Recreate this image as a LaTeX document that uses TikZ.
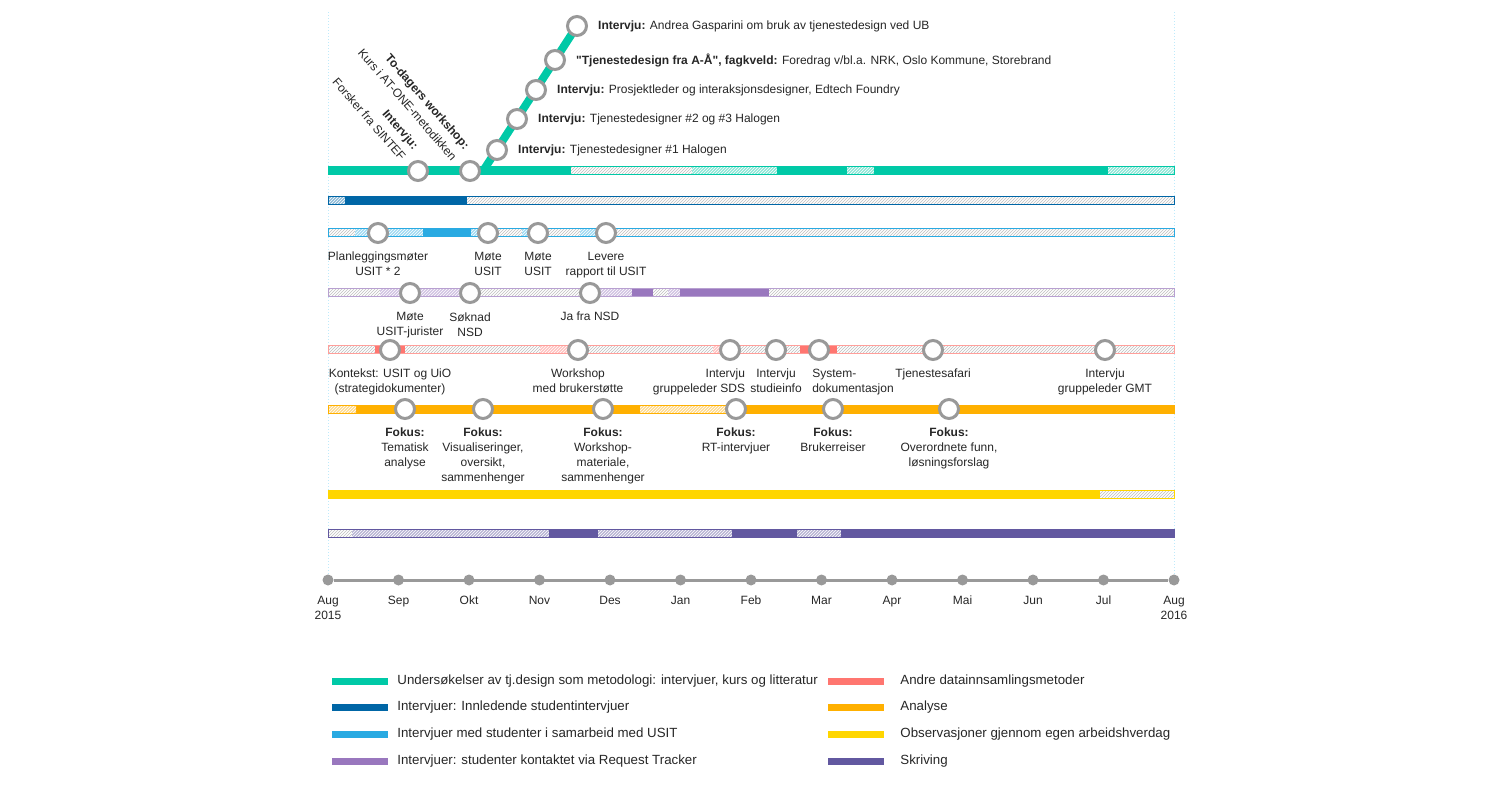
\documentclass[tikz,border=0pt]{standalone}
\usepackage{fontspec}
\setmainfont{Liberation Sans}
\usetikzlibrary{positioning,patterns}

\definecolor{cteal}{RGB}{0,201,167}
\definecolor{cdblue}{RGB}{0,102,166}
\definecolor{clblue}{RGB}{41,170,226}
\definecolor{cpurple}{RGB}{153,119,190}
\definecolor{cred}{RGB}{255,118,112}
\definecolor{corange}{RGB}{255,176,0}
\definecolor{cyellow}{RGB}{255,214,0}
\definecolor{cdpurple}{RGB}{98,88,160}
\newcommand\straightquote{\XeTeXglyph\XeTeXcharglyph"22\relax}

\begin{document}
\begin{tikzpicture}[x=1pt, y=-1pt,
    every node/.style={font=\fontsize{12}{15}\selectfont, text=black!85},
    stop/.style={circle, draw=black!40, line width=3pt, fill=white, minimum size=19pt, inner sep=0pt},
    month/.style={circle, fill=black!40, minimum size=11pt, inner sep=0pt},
    tag/.style={inner sep=0pt, align=center},
    slanted/.style={tag, rotate=-49, anchor=east, align=right, font=\fontsize{12}{17}\selectfont},
    key/.style={tag, font=\fontsize{13.3}{16}\selectfont},
    pale/.style={fill=white, postaction={pattern=north east lines, pattern color=black!25}},
    tinted/.style={fill=#1!45, postaction={pattern=north east lines, pattern color=white}},
    rim/.style={draw=#1, line width=1pt},
    track/.style={draw=#1, line width=8pt},
    swatch/.style={fill=#1, minimum width=56pt, minimum height=7pt, inner sep=0pt},
    guide/.style={draw=cyan!25, line width=1pt, dotted},
    ]
  \useasboundingbox (0,0) rectangle (1500,802);

  % time axis
  \node[month] (m0) at (328,580) {};
  \node[month] (m1) at (398.5,580) {};
  \node[month] (m2) at (469,580) {};
  \node[month] (m3) at (539.5,580) {};
  \node[month] (m4) at (610,580) {};
  \node[month] (m5) at (680.5,580) {};
  \node[month] (m6) at (751,580) {};
  \node[month] (m7) at (821.5,580) {};
  \node[month] (m8) at (892,580) {};
  \node[month] (m9) at (962.5,580) {};
  \node[month] (m10) at (1033,580) {};
  \node[month] (m11) at (1103.5,580) {};
  \node[month] (m12) at (1174,580) {};
  \draw[black!40, line width=3pt] (m0) -- (m12);
  \coordinate (topL) at (328,12);
  \coordinate (topR) at (1174,12);
  \draw[guide] (topL) -- (m0);
  \draw[guide] (topR) -- (m12);

  \node[tag, below=10pt of m0] (m0l) {Aug\\2015};
  \node[tag, below=10pt of m1] (m1l) {Sep};
  \node[tag, below=10pt of m2] (m2l) {Okt};
  \node[tag, below=10pt of m3] (m3l) {Nov};
  \node[tag, below=10pt of m4] (m4l) {Des};
  \node[tag, below=10pt of m5] (m5l) {Jan};
  \node[tag, below=10pt of m6] (m6l) {Feb};
  \node[tag, below=10pt of m7] (m7l) {Mar};
  \node[tag, below=10pt of m8] (m8l) {Apr};
  \node[tag, below=10pt of m9] (m9l) {Mai};
  \node[tag, below=10pt of m10] (m10l) {Jun};
  \node[tag, below=10pt of m11] (m11l) {Jul};
  \node[tag, below=10pt of m12] (m12l) {Aug\\2016};

  % tjenestedesign
  \fill[pale] (328,167) rectangle (1174,175);
  \fill[cteal] (328,167) rectangle (571,175);
  \fill[tinted=cteal] (692,167) rectangle (777,175);
  \fill[cteal] (777,167) rectangle (847,175);
  \fill[tinted=cteal] (847,167) rectangle (874,175);
  \fill[cteal] (874,167) rectangle (1108,175);
  \fill[tinted=cteal] (1108,167) rectangle (1174,175);
  \draw[rim=cteal] (328,167) rectangle (1174,175);

  % innledende
  \fill[pale] (328,197) rectangle (1174,205);
  \fill[tinted=cdblue] (328,197) rectangle (345,205);
  \fill[cdblue] (345,197) rectangle (467,205);
  \draw[rim=cdblue] (328,197) rectangle (1174,205);

  % usit
  \fill[pale] (328,229) rectangle (1174,237);
  \fill[tinted=clblue] (355,229) rectangle (423,237);
  \fill[clblue] (423,229) rectangle (471,237);
  \fill[tinted=clblue] (471,229) rectangle (488,237);
  \fill[tinted=clblue] (522,229) rectangle (538,237);
  \fill[tinted=clblue] (580,229) rectangle (606,237);
  \draw[rim=clblue] (328,229) rectangle (1174,237);

  % request tracker
  \fill[pale] (328,289) rectangle (1174,297);
  \fill[tinted=cpurple] (380,289) rectangle (470,297);
  \fill[tinted=cpurple] (590,289) rectangle (632,297);
  \fill[cpurple] (632,289) rectangle (653,297);
  \fill[tinted=cpurple] (668,289) rectangle (680,297);
  \fill[cpurple] (680,289) rectangle (769,297);
  \draw[rim=cpurple!70] (328,289) rectangle (1174,297);

  % andre metoder
  \fill[pale] (328,346) rectangle (1174,354);
  \fill[cred] (375,346) rectangle (405,354);
  \fill[tinted=cred] (540,346) rectangle (578,354);
  \fill[tinted=cred] (713,346) rectangle (730,354);
  \fill[cred] (800,346) rectangle (837,354);
  \fill[tinted=cred] (922,346) rectangle (933,354);
  \draw[rim=cred!70] (328,346) rectangle (1174,354);

  % analyse
  \fill[corange] (328,405) rectangle (1174,413);
  \fill[tinted=corange] (328,405) rectangle (356,413);
  \fill[tinted=corange] (640,405) rectangle (736,413);
  \draw[rim=corange] (328,405) rectangle (1174,413);

  % observasjoner
  \fill[pale] (328,490) rectangle (1174,498);
  \fill[cyellow] (328,490) rectangle (1100,498);
  \draw[rim=cyellow] (328,490) rectangle (1174,498);

  % skriving
  \fill[pale] (328,529) rectangle (1174,537);
  \fill[tinted=cdpurple] (352,529) rectangle (549,537);
  \fill[cdpurple] (549,529) rectangle (598,537);
  \fill[tinted=cdpurple] (598,529) rectangle (732,537);
  \fill[cdpurple] (732,529) rectangle (797,537);
  \fill[tinted=cdpurple] (797,529) rectangle (841,537);
  \fill[cdpurple] (841,529) rectangle (1174,537);
  \draw[rim=cdpurple] (328,529) rectangle (1174,537);

  % branch up
  \coordinate (fork) at (483,171);
  \coordinate (top) at (577,26);
  \draw[track=cteal] (fork) -- (top);

  \node[stop] (t1) at (418,171) {};
  \node[stop] (t2) at (470,171) {};
  \node[stop] (d1) at (497,150) {};
  \node[stop] (d2) at (517,119) {};
  \node[stop] (d3) at (536,90) {};
  \node[stop] (d4) at (555,60) {};
  \node[stop] (d5) at (top) {};

  \node[slanted] (t1l) at (410,153) {\textbf{Intervju:}\\Forsker fra SINTEF};
  \node[slanted] (t2l) at (461,153) {\textbf{To-dagers workshop:}\\Kurs i AT-ONE-metodikken};
  \node[tag, right=10pt of d1] (d1l) {\textbf{Intervju:} Tjenestedesigner \#1 Halogen};
  \node[tag, right=10pt of d2] (d2l) {\textbf{Intervju:} Tjenestedesigner \#2 og \#3 Halogen};
  \node[tag, right=10pt of d3] (d3l) {\textbf{Intervju:} Prosjektleder og interaksjonsdesigner, Edtech Foundry};
  \node[tag, right=10pt of d4] (d4l) {\textbf{\straightquote Tjenestedesign fra A-Å\straightquote, fagkveld:} Foredrag v/bl.a. NRK, Oslo Kommune, Storebrand};
  \node[tag, right=10pt of d5] (d5l) {\textbf{Intervju:} Andrea Gasparini om bruk av tjenestedesign ved UB};

  \node[stop] (u1) at (378,233) {};
  \node[stop] (u2) at (488,233) {};
  \node[stop] (u3) at (538,233) {};
  \node[stop] (u4) at (606,233) {};
  \node[tag, below=8pt of u1] (u1l) {Planleggingsmøter\\USIT * 2};
  \node[tag, below=8pt of u2] (u2l) {Møte\\USIT};
  \node[tag, below=8pt of u3] (u3l) {Møte\\USIT};
  \node[tag, below=8pt of u4] (u4l) {Levere\\rapport til USIT};

  \node[stop] (p1) at (410,293) {};
  \node[stop] (p2) at (470,293) {};
  \node[stop] (p3) at (590,293) {};
  \node[tag, below=8pt of p1] (p1l) {Møte\\USIT-jurister};
  \node[tag, below=9pt of p2] (p2l) {Søknad\\NSD};
  \node[tag, below=8pt of p3] (p3l) {Ja fra NSD};

  \node[stop] (r1) at (390,350) {};
  \node[stop] (r2) at (578,350) {};
  \node[stop] (r3) at (730,350) {};
  \node[stop] (r4) at (776,350) {};
  \node[stop] (r5) at (819,350) {};
  \node[stop] (r6) at (933,350) {};
  \node[stop] (r7) at (1105,350) {};
  \node[tag, below=8pt of r1] (r1l) {Kontekst: USIT og UiO\\(strategidokumenter)};
  \node[tag, below=8pt of r2] (r2l) {Workshop\\med brukerstøtte};
  \node[tag, below=8pt of r3, xshift=-31pt, align=right] (r3l) {Intervju\\gruppeleder SDS};
  \node[tag, below=8pt of r4] (r4l) {Intervju\\studieinfo};
  \node[tag, below=8pt of r5, xshift=34pt, align=left] (r5l) {System-\\dokumentasjon};
  \node[tag, below=8pt of r6] (r6l) {Tjenestesafari};
  \node[tag, below=8pt of r7] (r7l) {Intervju\\gruppeleder GMT};

  \node[stop] (a1) at (405,409) {};
  \node[stop] (a2) at (483,409) {};
  \node[stop] (a3) at (603,409) {};
  \node[stop] (a4) at (736,409) {};
  \node[stop] (a5) at (833,409) {};
  \node[stop] (a6) at (949,409) {};
  \node[tag, below=8pt of a1] (a1l) {\textbf{Fokus:}\\Tematisk\\analyse};
  \node[tag, below=8pt of a2] (a2l) {\textbf{Fokus:}\\Visualiseringer,\\oversikt,\\sammenhenger};
  \node[tag, below=8pt of a3] (a3l) {\textbf{Fokus:}\\Workshop-\\materiale,\\sammenhenger};
  \node[tag, below=8pt of a4] (a4l) {\textbf{Fokus:}\\RT-intervjuer};
  \node[tag, below=8pt of a5] (a5l) {\textbf{Fokus:}\\Brukerreiser};
  \node[tag, below=8pt of a6] (a6l) {\textbf{Fokus:}\\Overordnete funn,\\løsningsforslag};

  % legend
  \node[swatch=cteal] (k1) at (360,681) {};
  \node[swatch=cdblue] (k2) at (360,707) {};
  \node[swatch=clblue] (k3) at (360,734) {};
  \node[swatch=cpurple] (k4) at (360,761) {};
  \node[swatch=cred] (k5) at (856,681) {};
  \node[swatch=corange] (k6) at (856,707) {};
  \node[swatch=cyellow] (k7) at (856,734) {};
  \node[swatch=cdpurple] (k8) at (856,761) {};
  \node[key, right=9pt of k1] (k1l) {Undersøkelser av tj.design som metodologi: intervjuer, kurs og litteratur};
  \node[key, right=9pt of k2] (k2l) {Intervjuer: Innledende studentintervjuer};
  \node[key, right=9pt of k3] (k3l) {Intervjuer med studenter i samarbeid med USIT};
  \node[key, right=9pt of k4] (k4l) {Intervjuer: studenter kontaktet via Request Tracker};
  \node[key, right=16pt of k5] (k5l) {Andre datainnsamlingsmetoder};
  \node[key, right=16pt of k6] (k6l) {Analyse};
  \node[key, right=16pt of k7] (k7l) {Observasjoner gjennom egen arbeidshverdag};
  \node[key, right=16pt of k8] (k8l) {Skriving};
\end{tikzpicture}
\end{document}
